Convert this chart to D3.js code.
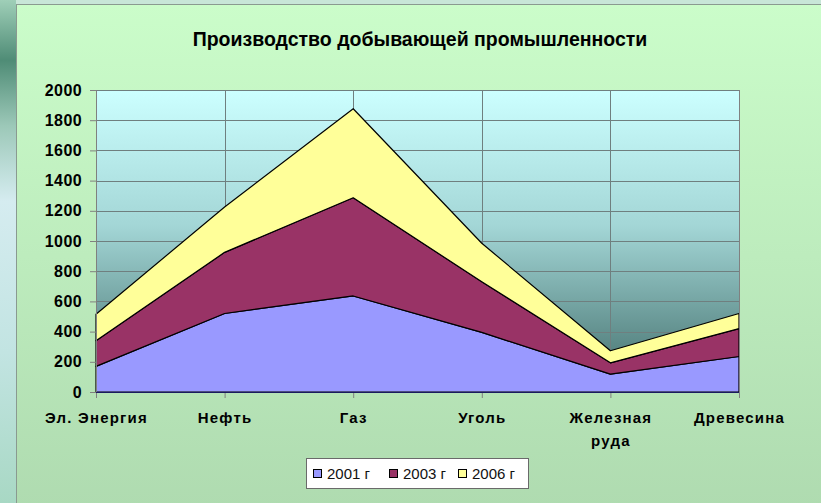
<!DOCTYPE html>
<html>
<head>
<meta charset="utf-8">
<script src="https://cdn.jsdelivr.net/npm/d3@7"></script>
<style>
  body { margin: 0; overflow: hidden; }
  text { font-family: Arial, "Liberation Sans", sans-serif; }
</style>
</head>
<body>
<div id="chart"></div>
<script>
// chart data
var categories = ["Эл. Энергия", "Нефть", "Газ", "Уголь", "Железная руда", "Древесина"];
var seriesNames = ["2001 г", "2003 г", "2006 г"];
var v2001 = [170, 520, 636, 395, 118, 235];
var v2003 = [170, 405, 650, 335, 75, 185];
var v2006 = [175, 300, 590, 255, 80, 100];
var yTicks = [0, 200, 400, 600, 800, 1000, 1200, 1400, 1600, 1800, 2000];
var colors = ["#9999ff", "#993366", "#ffff99"];

var W = 821, H = 503;
var margin = {top: 90, left: 96},
    width = 643,
    height = 302;

var svg = d3.select("#chart").append("svg")
    .attr("width", W)
    .attr("height", H);

var defs = svg.append("defs");
var bg = defs.append("linearGradient").attr("id", "bg").attr("x1", 0).attr("y1", 0).attr("x2", 0).attr("y2", 1);
bg.append("stop").attr("offset", "0%").attr("stop-color", "#cbfdca");
bg.append("stop").attr("offset", "100%").attr("stop-color", "#afdbb0");

var pg = defs.append("linearGradient").attr("id", "pg").attr("x1", 0).attr("y1", 0).attr("x2", 0).attr("y2", 1);
pg.append("stop").attr("offset", "0%").attr("stop-color", "#ccffff");
pg.append("stop").attr("offset", "45%").attr("stop-color", "#a3d6d6");
pg.append("stop").attr("offset", "100%").attr("stop-color", "#3f6b68");

var side = defs.append("linearGradient").attr("id", "side").attr("x1", 0).attr("y1", 0).attr("x2", 0).attr("y2", 1);
side.append("stop").attr("offset", "0%").attr("stop-color", "#9fcfb8");
side.append("stop").attr("offset", "12%").attr("stop-color", "#4f8c76");
side.append("stop").attr("offset", "25%").attr("stop-color", "#9cc8b8");
side.append("stop").attr("offset", "40%").attr("stop-color", "#d5ecf0");
side.append("stop").attr("offset", "70%").attr("stop-color", "#c2e4e2");
side.append("stop").attr("offset", "100%").attr("stop-color", "#a8d8c4");

// page background + chart frame
svg.append("rect").attr("width", W).attr("height", H).attr("fill", "#b8e0c0");
svg.append("rect").attr("x", 0).attr("y", 0).attr("width", 16).attr("height", H).attr("fill", "url(#side)");
svg.append("rect").attr("x", 16).attr("y", 0).attr("width", W - 16).attr("height", 4).attr("fill", "#c8e6d8");
svg.append("rect").attr("x", 16.5).attr("y", 4.5).attr("width", W).attr("height", H)
    .attr("fill", "url(#bg)").attr("stroke", "#8a9a90").attr("stroke-width", 1);

svg.append("text")
    .attr("x", 420).attr("y", 46)
    .attr("text-anchor", "middle")
    .attr("font-size", 19.5).attr("font-weight", "bold")
    .text("Производство добывающей промышленности");

var g = svg.append("g").attr("transform", "translate(" + margin.left + "," + margin.top + ")");

var x = d3.scalePoint().domain(categories).range([0, width]);
var y = d3.scaleLinear().domain([0, 2000]).range([height, 0]);

g.append("rect").attr("width", width).attr("height", height).attr("fill", "url(#pg)");

// grid
g.selectAll(".hg").data(yTicks).enter().append("line")
    .attr("x1", 0).attr("x2", width)
    .attr("y1", function(d) { return Math.round(y(d)) + 0.5; })
    .attr("y2", function(d) { return Math.round(y(d)) + 0.5; })
    .attr("stroke", "#6f7f7f");
g.selectAll(".vg").data(categories).enter().append("line")
    .attr("x1", function(d) { return Math.round(x(d)) + 0.5; })
    .attr("x2", function(d) { return Math.round(x(d)) + 0.5; })
    .attr("y1", 0).attr("y2", height)
    .attr("stroke", "#6f7f7f");

// stacked areas
var table = categories.map(function(c, i) {
  return {cat: c, "2001 г": v2001[i], "2003 г": v2003[i], "2006 г": v2006[i]};
});
var stack = d3.stack().keys(seriesNames)(table);
var area = d3.area()
    .x(function(d) { return x(d.data.cat); })
    .y0(function(d) { return y(d[0]); })
    .y1(function(d) { return y(d[1]); });

g.selectAll(".layer").data(stack).enter().append("path")
    .attr("d", area)
    .attr("fill", function(d, i) { return colors[i]; })
    .attr("stroke", "#000")
    .attr("stroke-width", 1.2)
    .attr("stroke-linejoin", "round");

// axes
var yAxis = g.append("g").call(d3.axisLeft(y).tickValues(yTicks).tickFormat(d3.format("d")).tickSize(6).tickPadding(8));
yAxis.select(".domain").attr("stroke", "#808080");
yAxis.selectAll(".tick line").attr("stroke", "#808080");
yAxis.selectAll("text").attr("font-size", 16).attr("font-weight", "bold").attr("fill", "#000")
    .attr("letter-spacing", 0.4)
    .attr("font-family", "Arial, 'Liberation Sans', sans-serif");

var xAxis = g.append("g").attr("transform", "translate(0," + height + ")")
    .call(d3.axisBottom(x).tickSize(6).tickFormat(""));
xAxis.select(".domain").remove();
xAxis.selectAll(".tick line").attr("stroke", "#808080");
g.append("line").attr("x1", 0).attr("x2", width).attr("y1", height + 0.5).attr("y2", height + 0.5)
    .attr("stroke", "#1a1a60").attr("stroke-width", 1.2);
g.append("line").attr("x1", width + 0.5).attr("x2", width + 0.5).attr("y1", 0).attr("y2", height + 6)
    .attr("stroke", "#808080");

var labels = xAxis.selectAll(".tick").append("text")
    .attr("fill", "#000")
    .attr("font-size", 15).attr("font-weight", "bold")
    .attr("letter-spacing", 1.2)
    .attr("text-anchor", "middle")
    .attr("font-family", "Arial, 'Liberation Sans', sans-serif");
labels.each(function(d) {
  var t = d3.select(this);
  var parts = d === "Железная руда" ? ["Железная", "руда"] : [d];
  parts.forEach(function(p, k) {
    t.append("tspan").attr("x", 0).attr("y", 31 + k * 23).text(p);
  });
});

// legend
var lg = svg.append("g").attr("transform", "translate(306,458)");
lg.append("rect").attr("x", 0.5).attr("y", 0.5).attr("width", 222).attr("height", 30)
    .attr("fill", "#fff").attr("stroke", "#6a6a6a");
var lx = [7, 83, 152];
seriesNames.forEach(function(s, i) {
  lg.append("rect").attr("x", lx[i] + 0.5).attr("y", 11.5).attr("width", 8).attr("height", 8)
      .attr("fill", colors[i]).attr("stroke", "#000");
  lg.append("text").attr("x", lx[i] + 14).attr("y", 21)
      .attr("font-size", 15).attr("fill", "#111").text(s);
});
</script>
</body>
</html>
